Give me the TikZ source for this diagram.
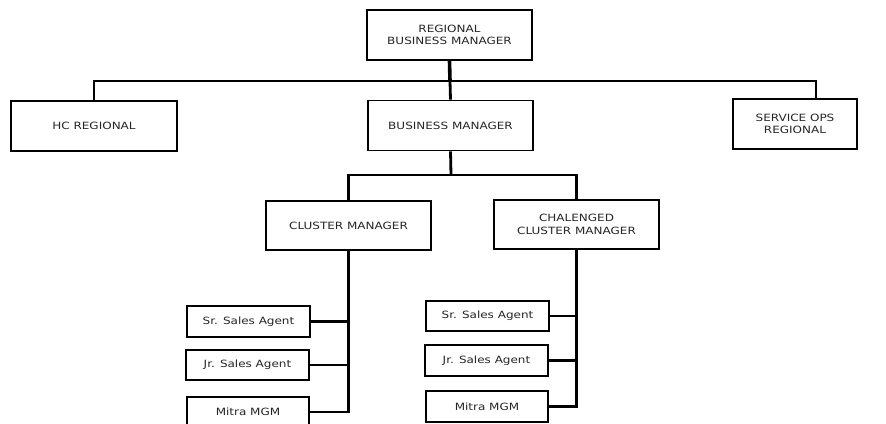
\documentclass[tikz,border=0pt]{standalone}
\usepackage{fontspec}
\newfontfamily\lblfont[FakeStretch=1.2]{DejaVu Sans}
\begin{document}
\begin{tikzpicture}[x=1pt,y=-1pt,
  box/.style={draw=black,line width=1.6pt,fill=white,inner sep=0pt,align=center,
    text=black!85,font=\lblfont\fontsize{10}{12.5}\selectfont},
  bigbox/.style={box,minimum width=165pt,minimum height=50pt},
  smallbox/.style={box,minimum width=123pt,minimum height=30.5pt},
  conn/.style={draw=black,line width=2.8pt}]
\useasboundingbox (0,0) rectangle (886,423);
\fill[white] (0,0) rectangle (886,423);
\clip (0,0) rectangle (886,423);
% top level
\node[bigbox] (rbm) at (449.5,35) {REGIONAL\\BUSINESS MANAGER};
\node[bigbox,minimum width=166pt] (hc) at (94,126) {HC REGIONAL};
\node[bigbox] (bm) at (450.5,125.5) {BUSINESS MANAGER};
\node[bigbox,minimum width=124pt,minimum height=50pt] (so) at (795,124) {SERVICE OPS\\REGIONAL};
\coordinate (j1) at (450,81);
\coordinate (soin) at (816,99);
\draw[conn,line width=3.6pt] (rbm.south) -- (j1);
\draw[conn] (hc.north) |- (j1);
\draw[conn] (j1) -| (soin);
\draw[conn] (j1) -- (bm.north);
% cluster level
\node[bigbox,minimum height=49pt] (cm) at (348.5,225.5) {CLUSTER MANAGER};
\node[bigbox,minimum height=49pt] (ccm) at (576.5,224.5) {CHALENGED\\CLUSTER MANAGER};
\coordinate (j2) at (451,175);
\draw[conn] (bm.south) -- (j2);
\draw[conn] (j2) -| (cm.north);
\draw[conn] (j2) -| (ccm.north);
% left agents
\node[smallbox] (ls) at (248.5,321.5) {Sr. Sales Agent};
\node[smallbox] (lj) at (247.5,365) {Jr. Sales Agent};
\node[smallbox,minimum width=122pt] (lm) at (248,412) {Mitra MGM};
\draw[conn] (cm.south) |- (lm.east);
\draw[conn] (ls.east) -- (ls.east -| cm.south);
\draw[conn] (lj.east) -- (lj.east -| cm.south);
% right agents
\node[smallbox] (rs) at (487.5,316) {Sr. Sales Agent};
\node[smallbox] (rj) at (486.5,360.5) {Jr. Sales Agent};
\node[smallbox,minimum width=122pt] (rm) at (487,406.5) {Mitra MGM};
\draw[conn] (ccm.south) |- (rm.east);
\draw[conn] (rs.east) -- (rs.east -| ccm.south);
\draw[conn] (rj.east) -- (rj.east -| ccm.south);
\end{tikzpicture}
\end{document}
